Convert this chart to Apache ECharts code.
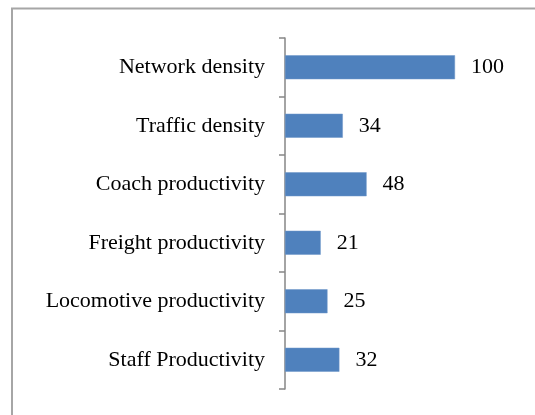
<!DOCTYPE html>
<html>
<head>
<meta charset="utf-8">
<script src="https://cdn.jsdelivr.net/npm/echarts@6/dist/echarts.min.js"></script>
<style>html,body{margin:0;padding:0;background:#fff;overflow:hidden}#c{width:535px;height:415px}</style>
</head>
<body>
<div id="c"></div>
<script>
var categories = ["Network density", "Traffic density", "Coach productivity", "Freight productivity", "Locomotive productivity", "Staff Productivity"];
var values = [100, 34, 48, 21, 25, 32];

var chart = echarts.init(document.getElementById('c'), null, {renderer: 'canvas'});
var font = '"Liberation Serif", "Times New Roman", serif';
chart.setOption({
  animation: false,
  graphic: [{
    type: 'polyline',
    shape: {points: [[12, 430], [12, 8.5], [560, 8.5]]},
    style: {fill: 'none', stroke: '#a6a6a6', lineWidth: 2},
    silent: true
  }],
  grid: {left: 285, top: 38, width: 170, height: 351, containLabel: false},
  xAxis: {
    type: 'value', min: 0, max: 100, show: false
  },
  yAxis: {
    type: 'category',
    data: categories,
    inverse: true,
    axisLine: {show: true, lineStyle: {color: '#868686', width: 1.5}},
    axisTick: {show: true, length: 6, lineStyle: {color: '#868686', width: 1.5}},
    axisLabel: {color: '#000', fontFamily: font, fontSize: 22, margin: 20}
  },
  series: [{
    type: 'bar',
    data: values,
    barWidth: 24,
    itemStyle: {color: '#4f81bd', borderColor: '#6e96c8', borderWidth: 0.5},
    label: {show: true, position: 'right', distance: 16, color: '#000', fontFamily: font, fontSize: 22}
  }]
});
</script>
</body>
</html>
